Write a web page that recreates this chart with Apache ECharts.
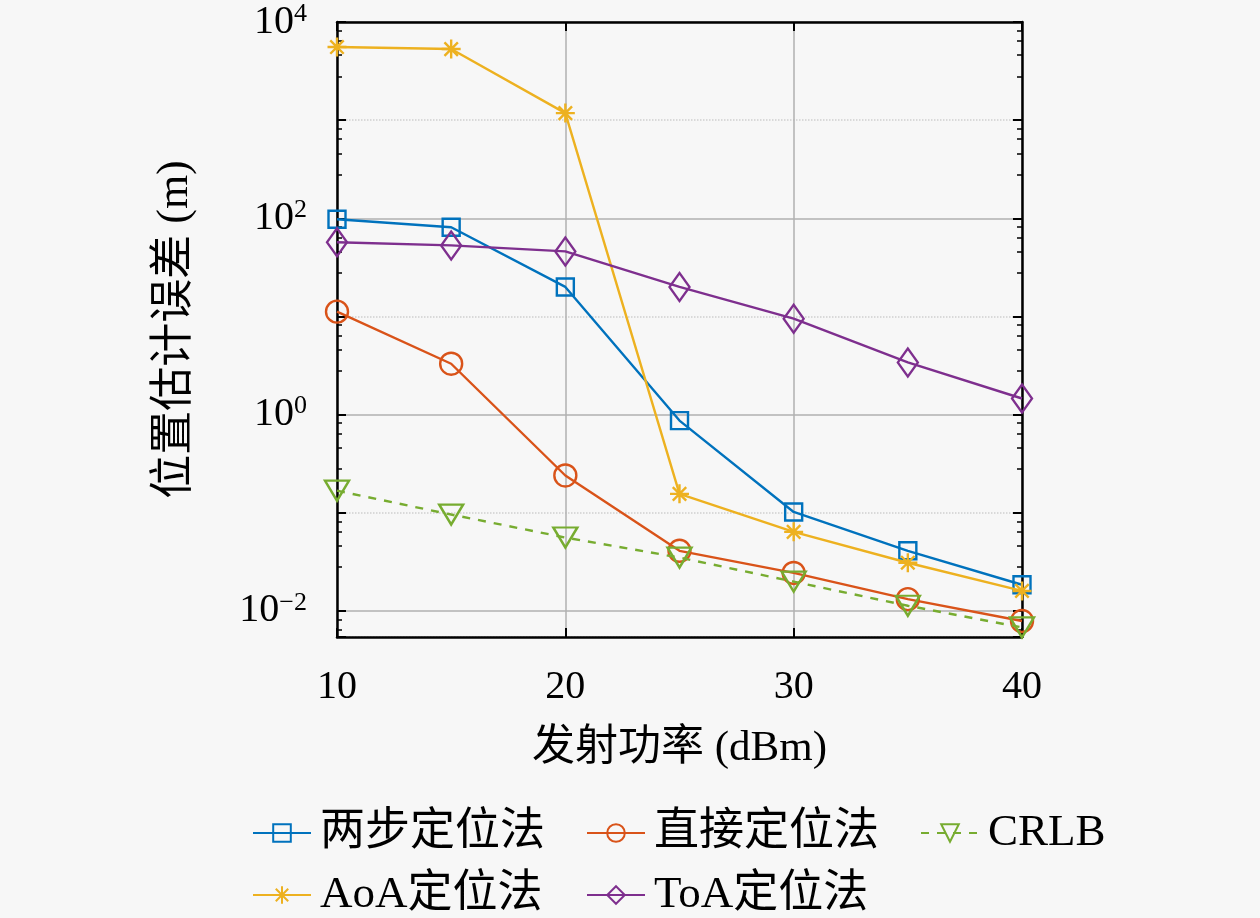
<!DOCTYPE html>
<html>
<head>
<meta charset="utf-8">
<script src="https://cdn.jsdelivr.net/npm/echarts@6/dist/echarts.min.js"></script>
<style>
html, body { margin: 0; padding: 0; background: #f7f7f7; }
#main { width: 1260px; height: 918px; }
</style>
</head>
<body>
<div id="main"></div>
<script>
// 发射功率 (dBm)
var power = [10, 15, 20, 25, 30, 35, 40];
// 各方法的位置估计误差 (m)
var twoStep = [98, 81, 20, 0.87, 0.102, 0.041, 0.0185];
var direct = [11.2, 3.3, 0.24, 0.041, 0.0244, 0.0132, 0.0079];
var crlb = [0.168, 0.096, 0.056, 0.035, 0.0199, 0.0113, 0.0068];
var aoa = [5560, 5300, 1180, 0.156, 0.064, 0.031, 0.016];
var toa = [57, 53, 46, 20, 9.5, 3.4, 1.46];

var names = ['两步定位法', '直接定位法', 'CRLB', 'AoA定位法', 'ToA定位法'];
var xTicks = [10, 20, 30, 40];

var FONT = "'Liberation Serif', 'Noto Sans CJK SC', serif";
var colors = ['#0072BD', '#D95319', '#77AC30', '#EDB120', '#7E2F8E'];
var starPath = 'path://M0,-10L0,10M-10,0L10,0M-7.07,-7.07L7.07,7.07M-7.07,7.07L7.07,-7.07';

var myChart = echarts.init(document.getElementById('main'));

function pairs(ys) {
	var out = [];
	for (var i = 0; i < power.length; i++) {
		out.push([power[i], ys[i]]);
	}
	return out;
}

/* 只显示 10 的偶数次幂标签 */
function logLabel(v) {
	var e = Math.log10(v);
	var r = Math.round(e);
	if (Math.abs(e - r) > 1e-6 || r % 2 !== 0) return '';
	return '{b|10}{s|' + (r < 0 ? '\u2212' + (-r) : r) + '}';
}

function mkSeries(i, ys, symbol, size, extra) {
	var s = {
		name : names[i],
		type : 'line',
		data : pairs(ys),
		symbol : symbol,
		symbolSize : size,
		showAllSymbol : true,
		lineStyle : { color : colors[i], width : 2.4 },
		itemStyle : { color : 'none', borderColor : colors[i], borderWidth : 2.4 },
		emphasis : { disabled : true },
		z : 2 + i
	};
	for (var k in extra) s[k] = extra[k];
	return s;
}

var yRich = {
	b : { fontFamily : FONT, fontSize : 40, color : '#000', lineHeight : 42 },
	s : { fontFamily : FONT, fontSize : 26, color : '#000', lineHeight : 22, verticalAlign : 'top' }
};

var legendCommon = {
	left : 247,
	orient : 'horizontal',
	itemWidth : 58,
	itemHeight : 22,
	itemGap : 34,
	textStyle : {
		fontFamily : FONT, fontSize : 45, color : '#000',
		width : 232, lineHeight : 52, padding : [0, 0, 0, 4]
	}
};

var option = {
	animation : false,
	backgroundColor : '#f7f7f7',
	grid : { left : 337, right : 238, top : 22, bottom : 281 },
	legend : [
		Object.assign({}, legendCommon, { top : 802, data : names.slice(0, 3) }),
		Object.assign({}, legendCommon, { top : 864, data : names.slice(3) })
	],
	xAxis : [ {
		type : 'value',
		min : xTicks[0],
		max : xTicks[xTicks.length - 1],
		interval : 10,
		name : '发射功率 (dBm)',
		nameLocation : 'middle',
		nameGap : 90,
		nameTextStyle : { fontFamily : FONT, fontSize : 43, color : '#000' },
		axisLine : { lineStyle : { color : '#000', width : 2.5 } },
		axisTick : { inside : true, length : 9, lineStyle : { color : '#000', width : 2 } },
		axisLabel : { margin : 30, fontFamily : FONT, fontSize : 40, color : '#000' },
		splitLine : { show : true, lineStyle : { color : '#b0b0b0', width : 1.5 } }
	}, {
		type : 'value',
		position : 'top',
		min : xTicks[0],
		max : xTicks[xTicks.length - 1],
		interval : 10,
		axisLine : { show : true, lineStyle : { color : '#000', width : 2.5 } },
		axisTick : { inside : true, length : 9, lineStyle : { color : '#000', width : 2 } },
		axisLabel : { show : false },
		splitLine : { show : false }
	} ],
	yAxis : [ {
		type : 'log',
		logBase : 10,
		min : 0.00543,
		max : 10000,
		name : '位置估计误差 (m)',
		nameLocation : 'middle',
		nameGap : 140,
		nameTextStyle : { fontFamily : FONT, fontSize : 44, color : '#000' },
		axisLine : { show : true, lineStyle : { color : '#000', width : 2.5 } },
		axisTick : { inside : true, length : 9, lineStyle : { color : '#000', width : 2 } },
		minorTick : { show : true, splitNumber : 5, length : 5, lineStyle : { color : '#000', width : 1.5 } },
		axisLabel : { margin : 30, formatter : logLabel, rich : yRich },
		splitLine : { show : true, lineStyle : { color : ['rgba(0,0,0,0)', '#b0b0b0'], width : 1.5 } }
	}, {
		type : 'log',
		logBase : 10,
		position : 'right',
		min : 0.00543,
		max : 10000,
		axisLine : { show : true, lineStyle : { color : '#000', width : 2.5 } },
		axisTick : { inside : true, length : 9, lineStyle : { color : '#000', width : 2 } },
		minorTick : { show : true, splitNumber : 5, length : 5, lineStyle : { color : '#000', width : 1.5 } },
		axisLabel : { show : false },
		splitLine : { show : true, lineStyle : { color : ['#d0d0d0', 'rgba(0,0,0,0)'], type : 'dotted', width : 1.5 } }
	} ],
	series : [
		mkSeries(0, twoStep, 'rect', 17),
		mkSeries(1, direct, 'circle', 22),
		mkSeries(2, crlb, 'triangle', [24, 20], { symbolRotate : 180, lineStyle : { color : colors[2], width : 2.4, type : [8, 8] } }),
		mkSeries(3, aoa, starPath, 19, { itemStyle : { color : colors[3], borderColor : colors[3], borderWidth : 2.4 } }),
		mkSeries(4, toa, 'diamond', [20, 28])
	]
};

myChart.setOption(option);
</script>
</body>
</html>
